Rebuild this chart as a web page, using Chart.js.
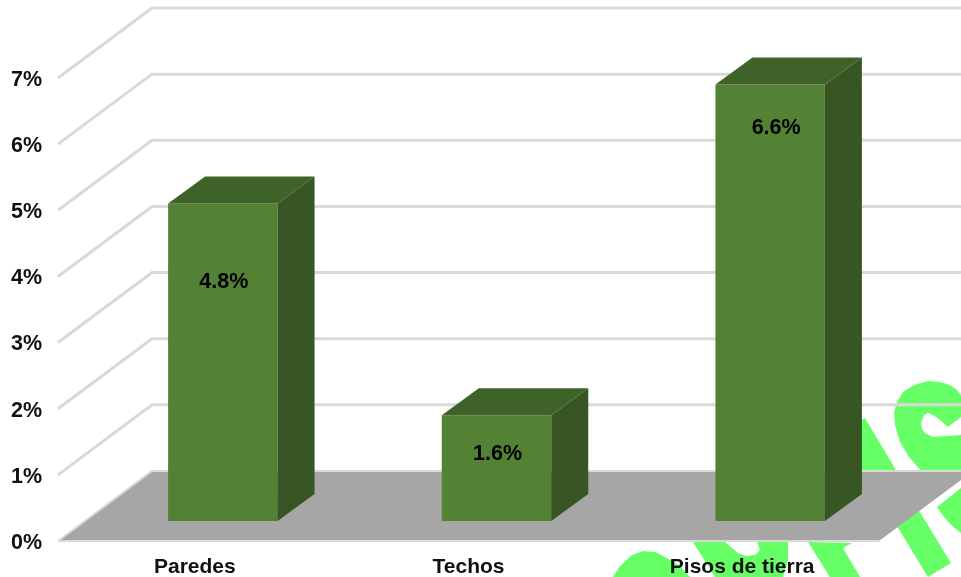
<!DOCTYPE html>
<html lang="es">
<head>
<meta charset="utf-8">
<title>Paredes, techos y pisos</title>
<script src="https://cdn.jsdelivr.net/npm/chart.js@4"></script>
<style>
  html, body { margin: 0; background: #fff; overflow: hidden; }
  canvas { display: block; filter: blur(0.45px); }
</style>
</head>
<body>
<canvas id="chart" width="961" height="577"></canvas>
<script>
const categories = ['Paredes', 'Techos', 'Pisos de tierra'];
const values = [4.8, 1.6, 6.6];
const yTicks = [0, 1, 2, 3, 4, 5, 6, 7];

// where each bar's label sits, in pixels from the top centre of the bar
const labelDrop = [79, 39, 44];
const labelSide = [1, 1, 6];

const FONT = '"Liberation Sans", Arial, sans-serif';
const labelLift = 2;                // tick labels sit a little under their gridline
const wall = { dx: 94, dy: -70 };   // front of the floor -> back wall
const barShift = { dx: 28, dy: -22 };
const barDepth = { dx: 37, dy: -27 };

// leftovers of the green watermark behind the chart
const watermark = [
  [[855,424],[865,418],[897,472],[855,472]],
  [[922,472],[909,457],[900,442],[895,425],[894,412],[897,402],[903,392],[914,385],[928,381],[940,382],[950,385],[956,389],[961,395],
   [961,417],[948,427],[940,420],[933,415],[928,413],[924,415],[921,423],[922,429],[925,433],[933,437],[961,435],[961,472]],
  [[613,577],[620,566],[632,555],[643,551],[655,552],[667,558],[680,566],[690,577]],
  [[693,542],[725,542],[738,553],[746,556],[755,555],[760,550],[757,542],[788,542],[788,560],[783,577],[715,577]],
  [[808,542],[852,543],[843,548],[860,577],[830,577]],
  [[915,504],[892,518],[928,577],[951,563]],
  [[937,507],[961,488],[961,533],[952,526],[944,517]]
];

function poly(ctx, pts, fill) {
  ctx.beginPath();
  pts.forEach((p, i) => i ? ctx.lineTo(p[0], p[1]) : ctx.moveTo(p[0], p[1]));
  ctx.closePath();
  ctx.fillStyle = fill;
  ctx.fill();
}

const scene = {
  id: 'scene',
  beforeDraw(chart) {
    const ctx = chart.ctx;
    ctx.save();
    watermark.forEach(p => poly(ctx, p, '#66ff66'));
    ctx.restore();
  },
  beforeDatasetsDraw(chart) {
    const ctx = chart.ctx, y = chart.scales.y, a = chart.chartArea;
    const y0 = y.getPixelForValue(0) - labelLift;
    ctx.save();
    poly(ctx, [[a.left, y0], [a.right, y0], [a.right + wall.dx, y0 + wall.dy], [a.left + wall.dx, y0 + wall.dy]], '#a6a6a6');
    ctx.strokeStyle = '#d9d9d9';
    yTicks.forEach(t => {
      const py = y.getPixelForValue(t) - labelLift;
      ctx.beginPath();
      ctx.moveTo(a.left, py);
      ctx.lineTo(a.left + wall.dx, py + wall.dy);
      ctx.lineTo(a.right + wall.dx, py + wall.dy);
      if (t === 0) {
        ctx.moveTo(a.left, py);
        ctx.lineTo(a.right, py);
        ctx.lineWidth = 2;
      } else {
        ctx.lineWidth = 3;
      }
      ctx.stroke();
    });
    ctx.restore();
    // bars stand in the middle of the floor, not on its front edge
    ctx.save();
    ctx.translate(barShift.dx, barShift.dy);
  },
  afterDatasetsDraw(chart) {
    const ctx = chart.ctx;
    chart.getDatasetMeta(0).data.forEach(bar => {
      const l = bar.x - bar.width / 2, r = bar.x + bar.width / 2;
      const d = barDepth;
      poly(ctx, [[l, bar.y], [r, bar.y], [r + d.dx, bar.y + d.dy], [l + d.dx, bar.y + d.dy]], '#3f6229');
      poly(ctx, [[r, bar.y], [r + d.dx, bar.y + d.dy], [r + d.dx, bar.base + d.dy], [r, bar.base]], '#375623');
    });
    ctx.restore();
  },
  afterDraw(chart) {
    const ctx = chart.ctx;
    ctx.save();
    ctx.font = 'bold 21.5px ' + FONT;
    ctx.fillStyle = '#000';
    ctx.textAlign = 'center';
    ctx.textBaseline = 'middle';
    chart.getDatasetMeta(0).data.forEach((bar, i) => {
      ctx.fillText(values[i].toFixed(1) + '%', bar.x + barShift.dx + labelSide[i], bar.y + barShift.dy + labelDrop[i]);
    });
    ctx.restore();
  }
};

new Chart(document.getElementById('chart'), {
  type: 'bar',
  data: {
    labels: categories,
    datasets: [{
      data: values,
      backgroundColor: '#548235',
      categoryPercentage: 1,
      barPercentage: 0.4,
      clip: false
    }]
  },
  options: {
    responsive: false,
    animation: false,
    layout: { padding: { top: 80, right: 82, bottom: 0, left: 0 } },
    plugins: { legend: { display: false }, tooltip: { enabled: false } },
    scales: {
      x: {
        grid: { display: false },
        border: { display: false },
        afterFit(s) { s.height = 34; },
        ticks: { color: '#111', font: { family: FONT, size: 21, weight: 'bold' }, padding: 4, maxRotation: 0 }
      },
      y: {
        min: 0,
        max: 7,
        grid: { display: false },
        border: { display: false },
        afterFit(s) { s.width = 58; },
        ticks: {
          stepSize: 1,
          color: '#111',
          padding: 8,
          font: { family: FONT, size: 21.5, weight: 'bold' },
          callback: v => v + '%'
        }
      }
    }
  },
  plugins: [scene]
});
</script>
</body>
</html>
